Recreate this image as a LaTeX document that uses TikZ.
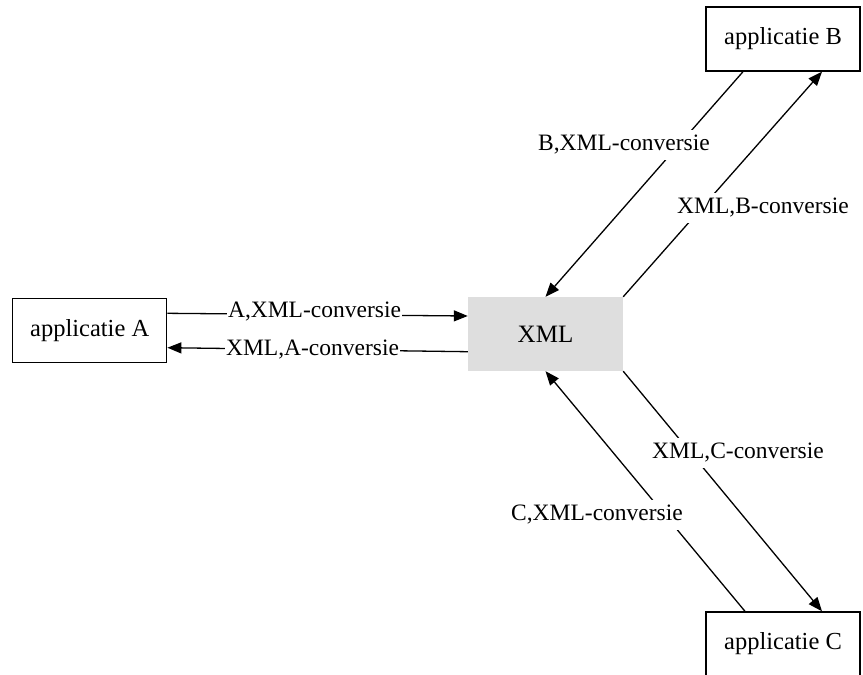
\documentclass[tikz,border=0pt]{standalone}
\usepackage{fontspec}
\setmainfont{Liberation Serif}
\usetikzlibrary{arrows.meta}
\definecolor{xmlgray}{RGB}{222,222,222}
\begin{document}
\begin{tikzpicture}[x=1pt,y=-1pt,
  app/.style={draw,line width=1.4pt,minimum width=154pt,minimum height=64pt,
    inner sep=0pt,font=\fontsize{24.5}{28}\selectfont},
  hub/.style={fill=xmlgray,minimum width=155pt,minimum height=74pt,
    inner sep=0pt,font=\fontsize{25}{28}\selectfont},
  flow/.style={line width=1.3pt,-{Triangle[length=14pt,width=11pt]}},
  lbl/.style={fill=white,inner xsep=1pt,inner ysep=5pt,
    font=\fontsize{23.5}{28}\selectfont}]
\useasboundingbox (0,0) rectangle (863,675);
\clip (0,0) rectangle (863,675);

% applications and the central XML format
\node[app] (A) at (89.7,330.7) {applicatie A};
\node[hub] (XML) at (545.5,334) {XML};
\node[app] (B) at (783,39) {applicatie B};
\node[app] (C) at (783,644) {applicatie C};

% conversions to and from XML
\draw[flow] ([yshift=17.4pt]A.east) -- ([yshift=18pt]XML.west);
\draw[flow] ([yshift=-17.7pt]XML.west) -- ([yshift=-17pt]A.east);
\draw[flow] (XML.north east) -- ([xshift=39pt]B.south);
\draw[flow] ([xshift=-40pt]B.south) -- (XML.north);
\draw[flow] (XML.south east) -- ([xshift=39pt]C.north);
\draw[flow] ([xshift=-38pt]C.north) -- (XML.south);

% edge labels
\node[lbl] (lAX) at (314.5,312) {A,XML-conversie};
\node[lbl] (lXA) at (312.5,350) {XML,A-conversie};
\node[lbl] (lBX) at (624,145) {B,XML-conversie};
\node[lbl] (lXB) at (763,208) {XML,B-conversie};
\node[lbl] (lXC) at (738,453) {XML,C-conversie};
\node[lbl] (lCX) at (597,515) {C,XML-conversie};
\end{tikzpicture}
\end{document}
